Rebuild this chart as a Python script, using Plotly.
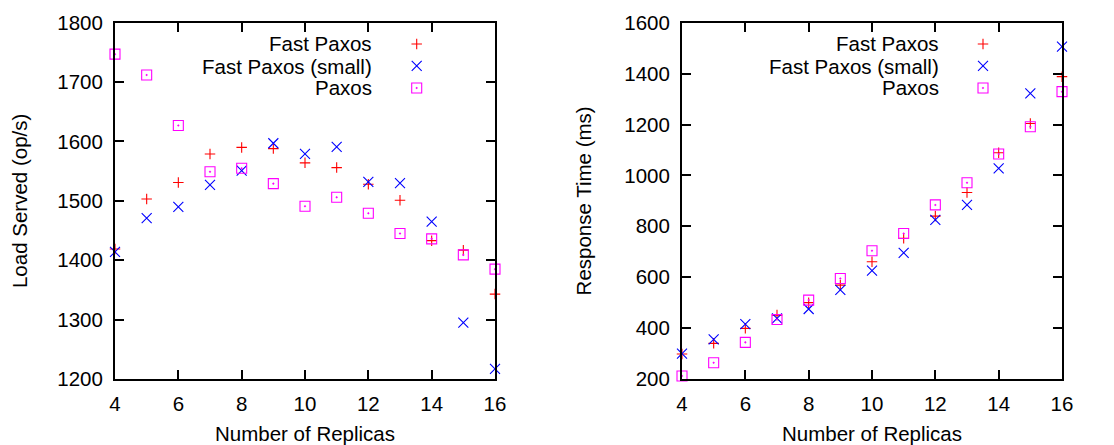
import plotly.graph_objects as go

replicas = [4, 5, 6, 7, 8, 9, 10, 11, 12, 13, 14, 15, 16]

load_fast = [1419, 1503, 1531, 1579, 1590, 1588, 1564, 1556, 1528, 1501, 1433, 1417, 1343]
load_fast_small = [1414, 1471, 1490, 1527, 1551, 1597, 1579, 1591, 1532, 1530, 1465, 1295, 1217]
load_paxos = [1747, 1712, 1627, 1549, 1555, 1529, 1491, 1506, 1479, 1445, 1436, 1409, 1385]

resp_fast = [298, 340, 399, 451, 500, 569, 661, 753, 840, 933, 1089, 1204, 1388]
resp_fast_small = [300, 356, 416, 438, 475, 550, 626, 696, 825, 884, 1028, 1322, 1506]
resp_paxos = [212, 264, 344, 434, 510, 595, 704, 772, 884, 971, 1084, 1191, 1329]

series_names = ["Fast Paxos", "Fast Paxos (small)", "Paxos"]
colors = ["#ff0000", "#0000ff", "#ff00ff"]
symbols = ["cross-thin-open", "x-thin-open", "square-open-dot"]
sizes = [7.5, 10, 10]

FONT = "Liberation Sans, Arial, sans-serif"

# page offset (browser body margin)
OFF = 8
W, H = 1114 - OFF, 445 - OFF


def px(v):
    return (v - OFF) / W


def py(v):
    return 1 - (v - OFF) / H


fig = go.Figure()

panels = [
    ("x", "y", "legend", [load_fast, load_fast_small, load_paxos]),
    ("x2", "y2", "legend2", [resp_fast, resp_fast_small, resp_paxos]),
]
for xa, ya, lg, data in panels:
    for name, vals, c, s, sz in zip(series_names, data, colors, symbols, sizes):
        fig.add_trace(go.Scatter(
            x=replicas, y=vals, mode="markers", name=" ",
            xaxis=xa, yaxis=ya, legend=lg, cliponaxis=False,
            marker=dict(symbol=s, size=sz, color=c, line=dict(color=c, width=1.1)),
            showlegend=True,
        ))

L1, R1 = 115, 495
L2, R2 = 682, 1062
TOP, BOT = 22.7, 379

axis_common = dict(
    showline=True, linecolor="black", linewidth=2, mirror="ticks",
    ticks="inside", ticklen=9, tickwidth=1.5, tickcolor="black",
    showgrid=False, zeroline=False,
    tickfont=dict(family=FONT, size=20.5, color="black"),
    title_font=dict(family=FONT, size=20.5, color="black"),
    automargin=False,
)

fig.update_layout(
    width=W, height=H,
    margin=dict(l=0, r=0, t=0, b=0),
    plot_bgcolor="white", paper_bgcolor="white",
    font=dict(family=FONT, size=20, color="black"),
    xaxis=dict(domain=[px(L1), px(R1)], range=[4, 16], dtick=2, tick0=4,
               ticklabelstandoff=5,
               title=dict(text="Number of Replicas", standoff=15), anchor="y", **axis_common),
    yaxis=dict(domain=[py(BOT), py(TOP)], range=[1200, 1800], dtick=100,
               ticklabelstandoff=6,
               title=dict(text="Load Served (op/s)", standoff=26), anchor="x", **axis_common),
    xaxis2=dict(domain=[px(L2), px(R2)], range=[4, 16], dtick=2, tick0=4,
                ticklabelstandoff=5,
                title=dict(text="Number of Replicas", standoff=15), anchor="y2", **axis_common),
    yaxis2=dict(domain=[py(BOT), py(TOP)], range=[200, 1600], dtick=200,
                ticklabelstandoff=6,
                title=dict(text="Response Time (ms)", standoff=27), anchor="x2", **axis_common),
    legend=dict(x=px(416.7 - 20), y=py(28), xanchor="left", yanchor="top",
                bgcolor="rgba(0,0,0,0)", font=dict(size=14.6), itemwidth=30,
                tracegroupgap=0),
    legend2=dict(x=px(983 - 20), y=py(28), xanchor="left", yanchor="top",
                 bgcolor="rgba(0,0,0,0)", font=dict(size=14.6), itemwidth=30,
                 tracegroupgap=0),
)

for xr in (374, 941):
    for i, n in enumerate(series_names):
        fig.add_annotation(
            text=n, xref="paper", yref="paper", x=px(xr), y=py(44 + 22 * i),
            xanchor="right", yanchor="middle", showarrow=False,
            font=dict(family=FONT, size=20.5, color="black"),
        )

fig.write_html("out.html")
